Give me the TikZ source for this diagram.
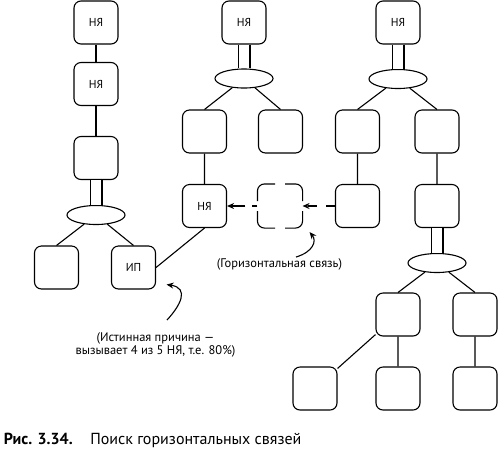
\documentclass[tikz,border=0pt]{standalone}
\usepackage{fontspec}
\setmainfont{PT Sans}
\usetikzlibrary{shapes,arrows.meta}

\begin{document}
\begin{tikzpicture}[x=1pt,y=-1pt,line width=1.1pt]
      \tikzstyle{box}=[rectangle,draw,rounded corners=7pt,minimum width=44pt,minimum height=43pt,inner sep=0pt,font=\fontsize{11.5}{13}\selectfont]
      \tikzstyle{knot}=[ellipse,draw,minimum width=58pt,minimum height=19pt,inner sep=0pt]
      \tikzstyle{twin}=[double,double distance=10.8pt]
      \tikzstyle{note}=[font=\fontsize{12.5}{13.5}\selectfont,align=center]
      \tikzstyle{hint}=[-{Stealth[length=7pt,width=6pt]}]
      \useasboundingbox (0,0) rectangle (500,451);
      % left chain
      \node[box] (a1) at (96,22.5) {НЯ};
      \node[box] (a2) at (96,84) {НЯ};
      \node[box] (a3) at (96,158) {};
      \node[knot] (ak) at (96,215) {};
      \node[box] (a4) at (56.5,267.5) {};
      \node[box] (ip) at (133.5,267.5) {ИП};
      % middle tree
      \node[box] (b1) at (244,22.5) {НЯ};
      \node[knot] (bk) at (244,78.5) {};
      \node[box] (b2) at (204.5,131.5) {};
      \node[box] (b3) at (280.5,131.5) {};
      \node[box] (b4) at (204.5,206) {НЯ};
      \node[box,draw=none] (d) at (280,206) {};
      % right tree
      \node[box] (c1) at (398,22.5) {НЯ};
      \node[knot] (ck) at (398,79) {};
      \node[box] (c2) at (357.5,131.5) {};
      \node[box] (c3) at (437,131.5) {};
      \node[box] (c4) at (357.5,206) {};
      \node[box] (c5) at (437,206) {};
      \node[knot] (cl) at (437,263) {};
      \node[box] (c6) at (398,314.5) {};
      \node[box] (c7) at (475,314.5) {};
      \node[box] (c8) at (315,388.5) {};
      \node[box] (c9) at (398,388.5) {};
      \node[box] (c10) at (475,388.5) {};
      % links
      \draw (a1) -- (a2) -- (a3);
      \draw[twin] (a3) -- (ak);
      \draw (ak) -- (a4.north) (ak) -- (ip.north);
      \draw[twin] (b1) -- (bk);
      \draw (bk) -- (b2.north) (bk) -- (b3.north) (b2) -- (b4);
      \draw (ip.east) -- (b4.south);
      \draw[twin] (c1) -- (ck);
      \draw (ck) -- (c2.north) (ck) -- (c3.north) (c2) -- (c4) (c3) -- (c5);
      \draw[twin] (c5) -- (cl);
      \draw (cl) -- (c6.north) (cl) -- (c7.north);
      \draw (c6) -- (c8) (c6) -- (c9) (c7) -- (c10);
      % dashed box
      \draw[rounded corners=7pt] ([xshift=5pt]d.north) -| ([yshift=5pt]d.east);
      \draw[rounded corners=7pt] ([yshift=-5pt]d.east) |- ([xshift=5pt]d.south);
      \draw[rounded corners=7pt] ([xshift=-5pt]d.south) -| ([yshift=-5pt]d.west);
      \draw[rounded corners=7pt] ([yshift=5pt]d.west) |- ([xshift=-5pt]d.north);
      \draw[hint,dash pattern=on 9pt off 9pt] (c4.west) -- (d.east);
      \draw[hint,dash pattern=on 5pt off 7pt on 20pt off 1pt] (d.west) -- (b4.east);
      % notes
      \node[note] (tg) at (279.5,264) {(Горизонтальная связь)};
      \coordinate (hs) at (296,257);
      \draw[hint] (hs) .. controls (313,252) and (317,241) .. ([shift={(7pt,-4pt)}]d.south east);
      \node[note] (tc) at (155.5,345) {(Истинная причина —\\вызывает 4 из 5 НЯ, т.е. 80\%)};
      \coordinate (cs) at (167,320);
      \draw[hint] (cs) .. controls (180,306) and (190,288) .. ([shift={(10.5pt,5pt)}]ip.south east);
      \node[anchor=base west,font=\fontsize{16}{18}\selectfont] (cap) at (0,444) {\textbf{Рис. 3.34.}\hspace{1.1em}Поиск горизонтальных связей};
\end{tikzpicture}
\end{document}
